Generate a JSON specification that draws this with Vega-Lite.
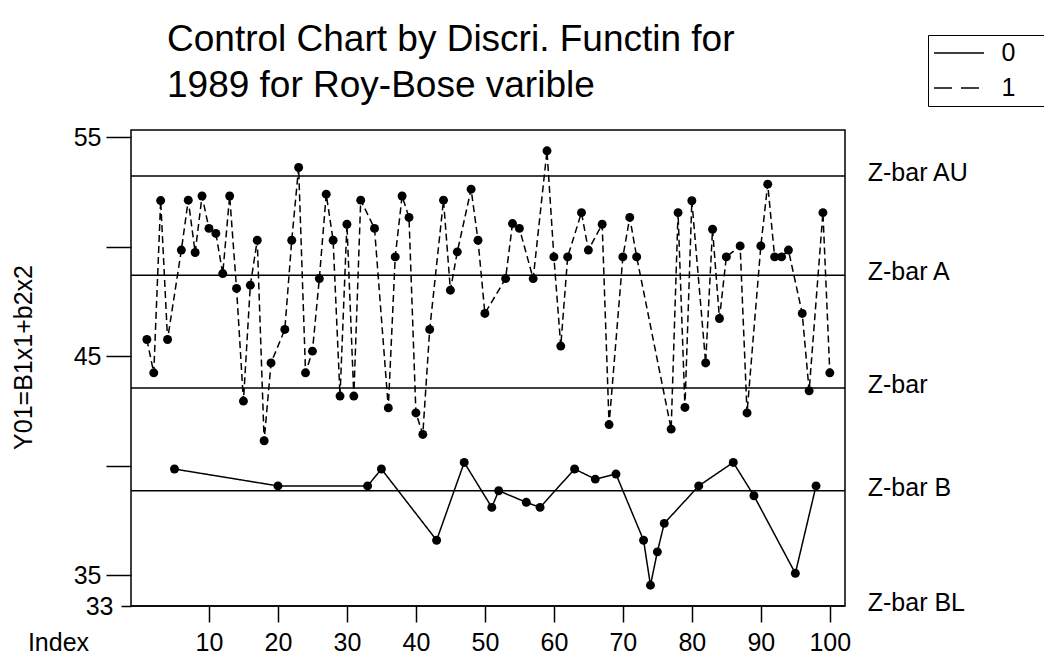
{
  "$schema": "https://vega.github.io/schema/vega-lite/v6.json",
  "autosize": "none",
  "width": 714,
  "height": 476,
  "padding": {"left": 131, "top": 130, "right": 199, "bottom": 49},
  "background": "white",
  "config": {
    "font": "Liberation Sans",
    "view": {"stroke": "black", "strokeWidth": 1.5},
    "axis": {"domain": false, "grid": false, "tickColor": "black", "tickWidth": 1.5, "labelColor": "black", "titleColor": "black", "labelFont": "Liberation Sans", "titleFont": "Liberation Sans", "titleFontWeight": "normal"}
  },
  "title": {
    "text": ["Control Chart by Discri. Functin for", "1989 for Roy-Bose varible"],
    "anchor": "start",
    "frame": "group",
    "fontSize": 37,
    "fontWeight": "normal",
    "color": "black",
    "baseline": "alphabetic",
    "lineHeight": 46,
    "dx": 36,
    "offset": -99
  },
  "datasets": {
    "series": [
      {"idx": 1, "y": 45.76, "group": "1"},
      {"idx": 2, "y": 44.24, "group": "1"},
      {"idx": 3, "y": 52.1, "group": "1"},
      {"idx": 4, "y": 45.76, "group": "1"},
      {"idx": 5, "y": 39.85, "group": "0"},
      {"idx": 6, "y": 49.84, "group": "1"},
      {"idx": 7, "y": 52.12, "group": "1"},
      {"idx": 8, "y": 49.73, "group": "1"},
      {"idx": 9, "y": 52.31, "group": "1"},
      {"idx": 10, "y": 50.83, "group": "1"},
      {"idx": 11, "y": 50.6, "group": "1"},
      {"idx": 12, "y": 48.77, "group": "1"},
      {"idx": 13, "y": 52.31, "group": "1"},
      {"idx": 14, "y": 48.09, "group": "1"},
      {"idx": 15, "y": 42.95, "group": "1"},
      {"idx": 16, "y": 48.24, "group": "1"},
      {"idx": 17, "y": 50.29, "group": "1"},
      {"idx": 18, "y": 41.14, "group": "1"},
      {"idx": 19, "y": 44.69, "group": "1"},
      {"idx": 20, "y": 39.08, "group": "0"},
      {"idx": 21, "y": 46.22, "group": "1"},
      {"idx": 22, "y": 50.29, "group": "1"},
      {"idx": 23, "y": 53.61, "group": "1"},
      {"idx": 24, "y": 44.24, "group": "1"},
      {"idx": 25, "y": 45.23, "group": "1"},
      {"idx": 26, "y": 48.54, "group": "1"},
      {"idx": 27, "y": 52.39, "group": "1"},
      {"idx": 28, "y": 50.29, "group": "1"},
      {"idx": 29, "y": 43.18, "group": "1"},
      {"idx": 30, "y": 51.02, "group": "1"},
      {"idx": 31, "y": 43.18, "group": "1"},
      {"idx": 32, "y": 52.12, "group": "1"},
      {"idx": 33, "y": 39.08, "group": "0"},
      {"idx": 34, "y": 50.83, "group": "1"},
      {"idx": 35, "y": 39.85, "group": "0"},
      {"idx": 36, "y": 42.64, "group": "1"},
      {"idx": 37, "y": 49.53, "group": "1"},
      {"idx": 38, "y": 52.31, "group": "1"},
      {"idx": 39, "y": 51.33, "group": "1"},
      {"idx": 40, "y": 42.41, "group": "1"},
      {"idx": 41, "y": 41.43, "group": "1"},
      {"idx": 42, "y": 46.22, "group": "1"},
      {"idx": 43, "y": 36.6, "group": "0"},
      {"idx": 44, "y": 52.12, "group": "1"},
      {"idx": 45, "y": 48.01, "group": "1"},
      {"idx": 46, "y": 49.76, "group": "1"},
      {"idx": 47, "y": 40.15, "group": "0"},
      {"idx": 48, "y": 52.62, "group": "1"},
      {"idx": 49, "y": 50.29, "group": "1"},
      {"idx": 50, "y": 46.95, "group": "1"},
      {"idx": 51, "y": 38.1, "group": "0"},
      {"idx": 52, "y": 38.86, "group": "0"},
      {"idx": 53, "y": 48.54, "group": "1"},
      {"idx": 54, "y": 51.05, "group": "1"},
      {"idx": 55, "y": 50.83, "group": "1"},
      {"idx": 56, "y": 38.33, "group": "0"},
      {"idx": 57, "y": 48.54, "group": "1"},
      {"idx": 58, "y": 38.1, "group": "0"},
      {"idx": 59, "y": 54.37, "group": "1"},
      {"idx": 60, "y": 49.53, "group": "1"},
      {"idx": 61, "y": 45.46, "group": "1"},
      {"idx": 62, "y": 49.53, "group": "1"},
      {"idx": 63, "y": 39.85, "group": "0"},
      {"idx": 64, "y": 51.55, "group": "1"},
      {"idx": 65, "y": 49.84, "group": "1"},
      {"idx": 66, "y": 39.39, "group": "0"},
      {"idx": 67, "y": 51.02, "group": "1"},
      {"idx": 68, "y": 41.88, "group": "1"},
      {"idx": 69, "y": 39.62, "group": "0"},
      {"idx": 70, "y": 49.53, "group": "1"},
      {"idx": 71, "y": 51.33, "group": "1"},
      {"idx": 72, "y": 49.53, "group": "1"},
      {"idx": 73, "y": 36.6, "group": "0"},
      {"idx": 74, "y": 34.55, "group": "0"},
      {"idx": 75, "y": 36.07, "group": "0"},
      {"idx": 76, "y": 37.37, "group": "0"},
      {"idx": 77, "y": 41.67, "group": "1"},
      {"idx": 78, "y": 51.55, "group": "1"},
      {"idx": 79, "y": 42.66, "group": "1"},
      {"idx": 80, "y": 52.09, "group": "1"},
      {"idx": 81, "y": 39.08, "group": "0"},
      {"idx": 82, "y": 44.69, "group": "1"},
      {"idx": 83, "y": 50.79, "group": "1"},
      {"idx": 84, "y": 46.72, "group": "1"},
      {"idx": 85, "y": 49.53, "group": "1"},
      {"idx": 86, "y": 40.15, "group": "0"},
      {"idx": 87, "y": 50.03, "group": "1"},
      {"idx": 88, "y": 42.41, "group": "1"},
      {"idx": 89, "y": 38.63, "group": "0"},
      {"idx": 90, "y": 50.03, "group": "1"},
      {"idx": 91, "y": 52.85, "group": "1"},
      {"idx": 92, "y": 49.53, "group": "1"},
      {"idx": 93, "y": 49.53, "group": "1"},
      {"idx": 94, "y": 49.84, "group": "1"},
      {"idx": 95, "y": 35.09, "group": "0"},
      {"idx": 96, "y": 46.95, "group": "1"},
      {"idx": 97, "y": 43.42, "group": "1"},
      {"idx": 98, "y": 39.08, "group": "0"},
      {"idx": 99, "y": 51.55, "group": "1"},
      {"idx": 100, "y": 44.24, "group": "1"}
    ],
    "limits": [
      {"name": "Z-bar AU", "level": 53.22},
      {"name": "Z-bar A", "level": 48.69},
      {"name": "Z-bar", "level": 43.55},
      {"name": "Z-bar B", "level": 38.86},
      {"name": "Z-bar BL", "level": 33.6}
    ]
  },
  "layer": [
    {
      "data": {"name": "limits"},
      "mark": {"type": "rule", "color": "black", "strokeWidth": 1.5},
      "encoding": {
        "y": {"field": "level", "type": "quantitative"}
      }
    },
    {
      "data": {"name": "limits"},
      "mark": {"type": "text", "align": "left", "baseline": "middle", "fontSize": 25, "color": "black", "dy": -3},
      "encoding": {
        "x": {"datum": 105.5, "type": "quantitative"},
        "y": {"field": "level", "type": "quantitative"},
        "text": {"field": "name"}
      }
    },
    {
      "data": {"name": "series"},
      "mark": {"type": "line", "color": "black", "strokeWidth": 1.5},
      "encoding": {
        "x": {"field": "idx", "type": "quantitative"},
        "y": {"field": "y", "type": "quantitative"},
        "detail": {"field": "group", "type": "nominal"},
        "strokeDash": {"condition": {"test": "datum.group === '1'", "value": [7, 4]}, "value": [1, 0]}
      }
    },
    {
      "data": {"name": "series"},
      "mark": {"type": "line", "color": "black", "strokeWidth": 1.5, "opacity": 0},
      "encoding": {
        "x": {"field": "idx", "type": "quantitative"},
        "y": {"field": "y", "type": "quantitative"},
        "strokeDash": {
          "field": "group",
          "type": "nominal",
          "scale": {"domain": ["0", "1"], "range": [[1, 0], [18, 9]]},
          "legend": {
            "orient": "none",
            "legendX": 797,
            "legendY": -95,
            "title": ".",
            "titleOrient": "right",
            "titleColor": "white",
            "titleFontSize": 25,
            "titlePadding": 20,
            "strokeColor": "black",
            "padding": 4.5,
            "symbolType": "M-0.96,0H3.04",
            "symbolSize": 625,
            "symbolStrokeWidth": 1.5,
            "symbolStrokeColor": "black",
            "symbolOpacity": 1,
            "labelFontSize": 25,
            "labelColor": "black",
            "labelOffset": 42,
            "rowPadding": 8
          }
        }
      }
    },
    {
      "data": {"name": "series"},
      "mark": {"type": "circle", "color": "black", "opacity": 1, "size": 80},
      "encoding": {
        "x": {
          "field": "idx",
          "type": "quantitative",
          "scale": {"domain": [-1.3, 102.2], "nice": false, "zero": false},
          "axis": {
            "values": [10, 20, 30, 40, 50, 60, 70, 80, 90, 100],
            "tickSize": 16,
            "labelFontSize": 25,
            "labelBaseline": "alphabetic",
            "labelPadding": 28,
            "labelFlush": false,
            "labelOverlap": false,
            "title": "Index",
            "titleFontSize": 25,
            "titleX": -73,
            "titleY": 44,
            "titleAlign": "center",
            "titleBaseline": "alphabetic"
          }
        },
        "y": {
          "field": "y",
          "type": "quantitative",
          "scale": {"domain": [33.6, 55.32], "nice": false, "zero": false},
          "axis": {
            "values": [33.6, 35, 40, 45, 50, 55],
            "labelExpr": "datum.value < 34 ? '33' : (datum.value == 40 || datum.value == 50 ? '' : datum.label)",
            "tickSize": {"condition": {"test": "datum.value < 34", "value": 10}, "value": 25},
            "labelPadding": {"condition": {"test": "datum.value < 34", "value": 8}, "value": 5},
            "labelFontSize": 25,
            "labelBaseline": "middle",
            "labelFlush": false,
            "labelOverlap": false,
            "title": "Y01=B1x1+b2x2",
            "titleFontSize": 25,
            "titleX": -108,
            "titleY": 227,
            "titleAngle": -90,
            "titleAlign": "center",
            "titleBaseline": "middle"
          }
        }
      }
    }
  ]
}
